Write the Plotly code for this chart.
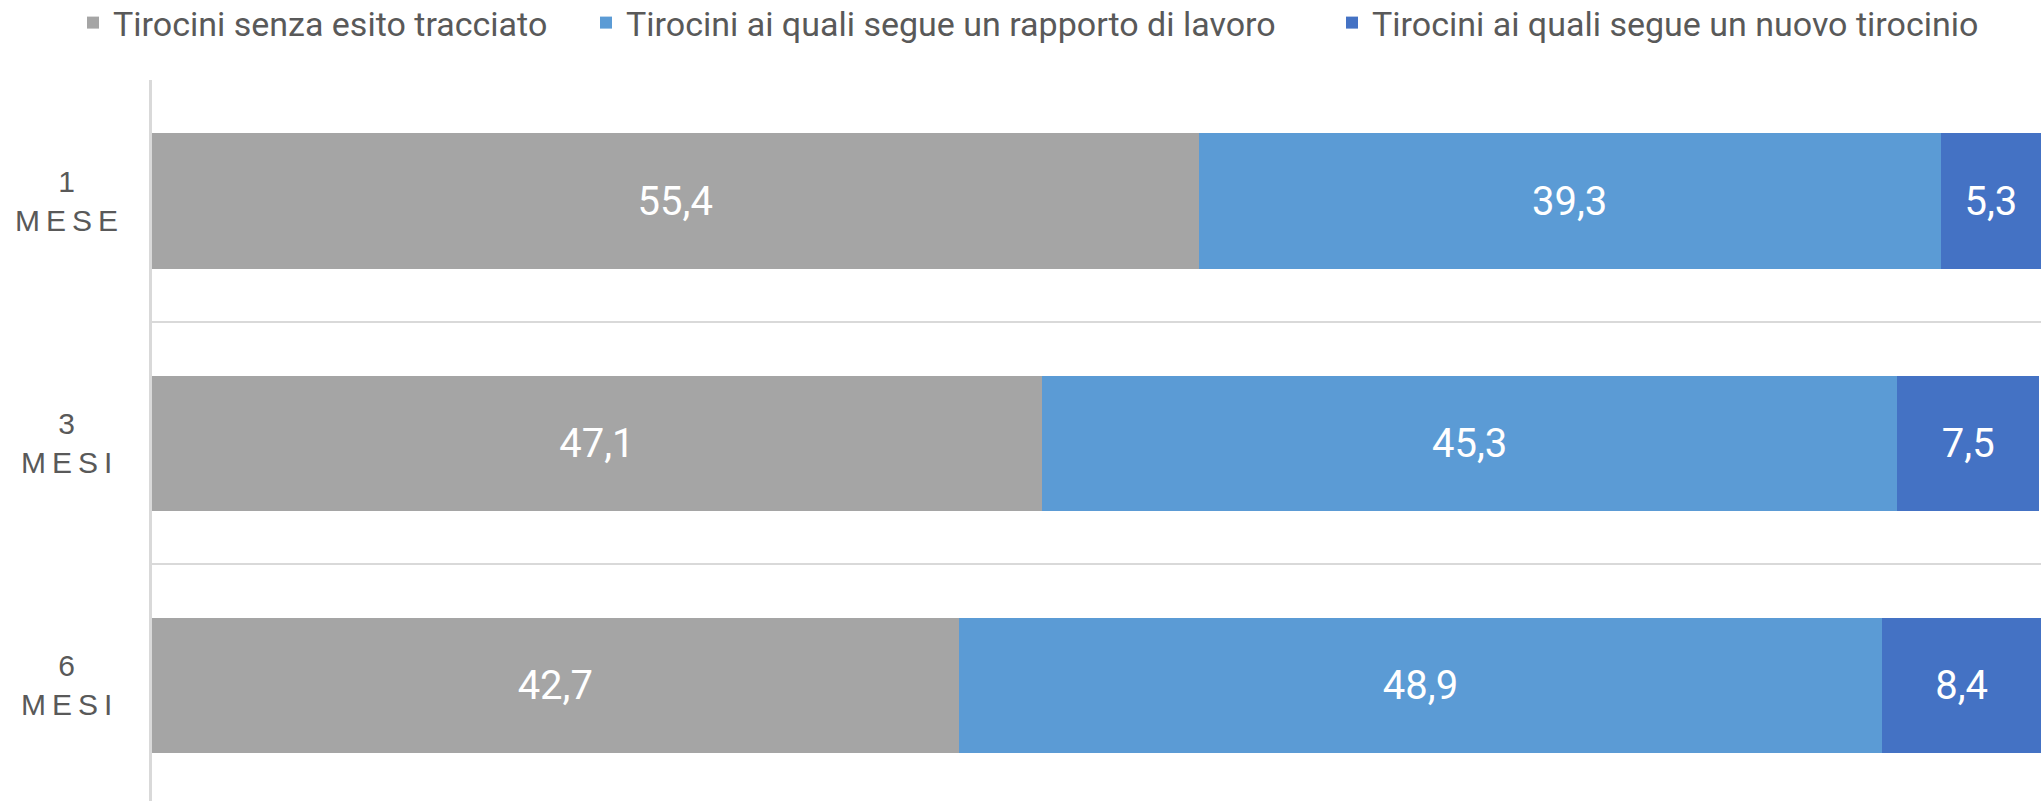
import plotly.graph_objects as go

categories = ["1 MESE", "3 MESI", "6 MESI"]
cat_num = ["1", "3", "6"]
cat_word = ["MESE", "MESI", "MESI"]
series_names = [
    "Tirocini senza esito tracciato",
    "Tirocini ai quali segue un rapporto di lavoro",
    "Tirocini ai quali segue un nuovo tirocinio",
]
senza_esito = [55.4, 47.1, 42.7]
rapporto_lavoro = [39.3, 45.3, 48.9]
nuovo_tirocinio = [5.3, 7.5, 8.4]
colors = ["#A5A5A5", "#5B9BD5", "#4472C4"]
legend_ids = ["legend", "legend2", "legend3"]
legend_x = [73, 586, 1332]  # container pixels

W, H = 2044, 801
fig = go.Figure()
for name, vals, col, lid in zip(series_names, [senza_esito, rapporto_lavoro, nuovo_tirocinio], colors, legend_ids):
    fig.add_trace(go.Bar(
        y=categories, x=vals, name=name, orientation="h", legend=lid,
        marker=dict(color=col, line=dict(width=0)),
        texttemplate="%{x:.1f}", textposition="inside", insidetextanchor="middle",
        textfont=dict(color="white", size=40, family="Roboto, Arial"),
        constraintext="none",
    ))

for c, n, w in zip(categories, cat_num, cat_word):
    fig.add_annotation(
        xref="paper", yref="y", x=-0.0455, y=c, xanchor="center", yanchor="middle",
        text=n + "<br>" + "\u2009".join(w), showarrow=False, align="center",
        font=dict(size=30, color="#595959", family="Liberation Sans, Arial"),
    )

legend_style = dict(
    orientation="h", xref="container", yref="container",
    y=1 - 23 / H, xanchor="left", yanchor="middle",
    font=dict(size=34, color="#595959", family="Roboto, Arial"),
    bgcolor="rgba(0,0,0,0)",
)
legends = {lid: dict(legend_style, x=lx / W) for lid, lx in zip(legend_ids, legend_x)}

fig.update_layout(
    width=W, height=H,
    margin=dict(l=152, r=3, t=80, b=0, autoexpand=False),
    barmode="stack", bargap=0.442,
    separators=",.",
    plot_bgcolor="white", paper_bgcolor="white",
    showlegend=True,
    xaxis=dict(range=[0, 100], showgrid=False, zeroline=False, showticklabels=False,
               showline=False, automargin=False),
    yaxis=dict(
        type="category", categoryorder="array", categoryarray=categories,
        range=[2.479, -0.5], tickson="boundaries", showgrid=True,
        gridcolor="#D9D9D9", gridwidth=2, showticklabels=False, ticks="",
        showline=True, linecolor="#D9D9D9", linewidth=3, zeroline=False, automargin=False,
    ),
    uniformtext=dict(minsize=10, mode="show"),
    **legends,
)

fig.write_html(
    "out.html",
    config={"displayModeBar": False},
    post_script="document.body.style.margin='0';document.body.style.overflow='hidden';",
)
